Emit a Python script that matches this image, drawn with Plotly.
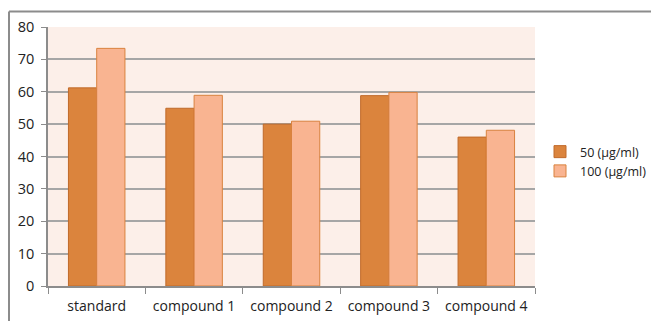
import plotly.graph_objects as go

# Inhibition values per compound at two concentrations
categories = ["standard", "compound 1", "compound 2", "compound 3", "compound 4"]
series_names = ["50 (µg/ml)", "100 (µg/ml)"]
values_50 = [61.2, 54.9, 50.0, 58.8, 46.0]
values_100 = [73.4, 58.9, 50.9, 59.8, 48.1]
y_ticks = [0, 10, 20, 30, 40, 50, 60, 70, 80]

W, H = 651, 321
L, R, T, B = 48, 116, 26.5, 34.5
plot_w = W - L - R
plot_h = H - T - B

fig = go.Figure()
fig.add_trace(go.Bar(
    name=series_names[0], x=categories, y=values_50,
    marker=dict(color="#db843d", line=dict(color="#c06a2a", width=1)),
))
fig.add_trace(go.Bar(
    name=series_names[1], x=categories, y=values_100,
    marker=dict(color="#f9b491", line=dict(color="#d9823f", width=1)),
))

# outer frame (top and left edges of the chart border)
def px_to_paper_x(px):
    return (px - L) / plot_w

def py_to_paper_y(py):
    return (H - B - py) / plot_h

frame_color = "#8c8c8c"
fig.add_shape(type="line", xref="paper", yref="paper",
              x0=px_to_paper_x(9), x1=px_to_paper_x(W + 5),
              y0=py_to_paper_y(11), y1=py_to_paper_y(11),
              line=dict(color=frame_color, width=2))
fig.add_shape(type="line", xref="paper", yref="paper",
              x0=px_to_paper_x(9), x1=px_to_paper_x(9),
              y0=py_to_paper_y(11), y1=py_to_paper_y(H + 5),
              line=dict(color=frame_color, width=2))

font_family = "Open Sans, Liberation Sans, sans-serif"
fig.update_layout(
    width=W, height=H,
    margin=dict(l=L, r=R, t=T, b=B, pad=0, autoexpand=False),
    paper_bgcolor="white",
    plot_bgcolor="#fcefe9",
    barmode="group",
    bargap=0.42,
    bargroupgap=0,
    font=dict(family=font_family, size=13, color="#222222"),
    legend=dict(
        xref="container", yref="container",
        x=540 / W, y=1 - 137 / H, xanchor="left", yanchor="top",
        font=dict(size=12.5, family=font_family, color="#222222"),
        bgcolor="rgba(0,0,0,0)", tracegroupgap=4, itemwidth=30,
    ),
    showlegend=True,
)
fig.update_xaxes(
    type="category", tickson="boundaries", ticks="outside", ticklen=6,
    tickcolor="#8c8c8c", showline=True, linecolor="#8c8c8c", linewidth=1.5,
    showgrid=False, tickfont=dict(size=14), zeroline=False,
    ticklabelstandoff=6, automargin=False,
)
fig.update_yaxes(
    range=[0, 80], tickvals=y_ticks, ticks="outside", ticklen=5,
    tickcolor="#8c8c8c", showline=True, linecolor="#8c8c8c", linewidth=1.5,
    showgrid=True, gridcolor="#a6a6a6", gridwidth=1.5, zeroline=False,
    tickfont=dict(size=14.5), ticklabelstandoff=4, automargin=False,
)

fig.write_html("out.html")
